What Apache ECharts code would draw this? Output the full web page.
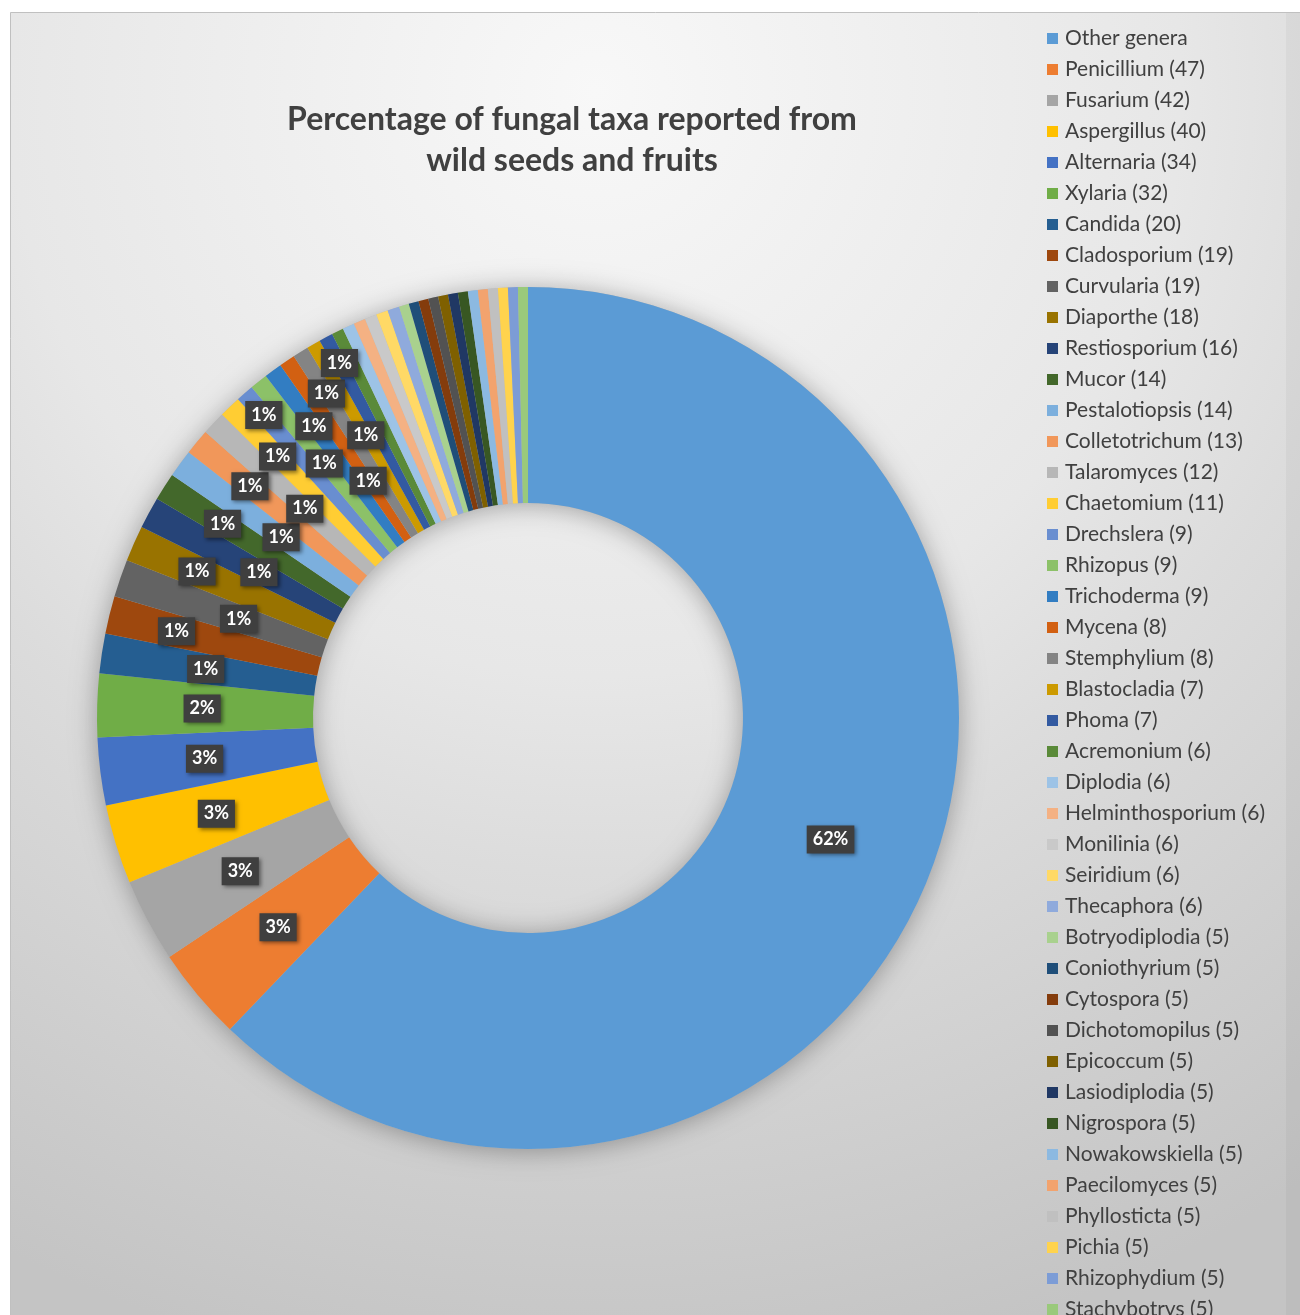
<!DOCTYPE html>
<html>
<head>
<meta charset="utf-8">
<script src="https://cdn.jsdelivr.net/npm/echarts@6/dist/echarts.min.js"></script>
<style>
  html, body { margin: 0; padding: 0; background: #ffffff; }
  #chart { width: 1300px; height: 1315px; }
</style>
</head>
<body>
<div id="chart"></div>
<script>
// ---- data ----
const titleLines = ["Percentage of fungal taxa reported from", "wild seeds and fruits"];

const genera = [
  "Other genera", "Penicillium", "Fusarium", "Aspergillus", "Alternaria", "Xylaria",
  "Candida", "Cladosporium", "Curvularia", "Diaporthe", "Restiosporium", "Mucor",
  "Pestalotiopsis", "Colletotrichum", "Talaromyces", "Chaetomium", "Drechslera", "Rhizopus",
  "Trichoderma", "Mycena", "Stemphylium", "Blastocladia", "Phoma", "Acremonium",
  "Diplodia", "Helminthosporium", "Monilinia", "Seiridium", "Thecaphora", "Botryodiplodia",
  "Coniothyrium", "Cytospora", "Dichotomopilus", "Epicoccum", "Lasiodiplodia", "Nigrospora",
  "Nowakowskiella", "Paecilomyces", "Phyllosticta", "Pichia", "Rhizophydium", "Stachybotrys"
];

// counts; "Other genera" is estimated from its 62% share of the ring
const counts = [
  836, 47, 42, 40, 34, 32,
  20, 19, 19, 18, 16, 14,
  14, 13, 12, 11, 9, 9,
  9, 8, 8, 7, 7, 6,
  6, 6, 6, 6, 6, 5,
  5, 5, 5, 5, 5, 5,
  5, 5, 5, 5, 5, 5
];

const palette = [
  "#5B9BD5", "#ED7D31", "#A5A5A5", "#FFC000", "#4472C4", "#70AD47",
  "#255E91", "#9E480E", "#636363", "#997300", "#264478", "#43682B",
  "#7CAFDD", "#F1975A", "#B7B7B7", "#FFCD33", "#698ED0", "#8CC168",
  "#327DC2", "#D26012", "#848484", "#CC9A00", "#335AA1", "#5A8A39",
  "#9DC3E6", "#F4B183", "#C9C9C9", "#FFD966", "#8FAADC", "#A9D18E",
  "#1F4E79", "#843C0C", "#525252", "#7F6000", "#203864", "#385723",
  "#8CB9E1", "#F2A36E", "#C0C0C0", "#FFD34D", "#7C9CD6", "#9AC97B"
];

// ---- build ----
const total = counts.reduce((a, b) => a + b, 0);
const pct = counts.map(v => Math.round(v / total * 100));
const CX = 528, CY = 718, R0 = 215, R1 = 431;

const pieData = genera.map((g, i) => ({
  name: g,
  value: counts[i],
  itemStyle: { color: palette[i] },
  label: { show: pct[i] > 0 }
}));

// radial placement of callout labels: alternate outer / inner ring,
// falling back to other radii when a label would collide with one already placed
const oddSteps = [36, 0, 56, -20, -40, 76];
const evenSteps = [-20, 0, 36, -40, 56, 76];
let placed = [];
function overlaps(a, list) {
  for (const b of list) {
    if (a.x < b.x + b.w && b.x < a.x + a.w &&
        a.y < b.y + b.h && b.y < a.y + a.h) return true;
  }
  return false;
}

const chart = echarts.init(document.getElementById('chart'), null, { renderer: 'canvas' });

const option = {
  animation: false,
  graphic: [
    {
      type: 'rect', z: -10, silent: true,
      shape: { x: 10.5, y: 12.5, width: 1300, height: 1320 },
      style: {
        fill: {
          type: 'radial', x: 0.45, y: 0.06, r: 1.0,
          colorStops: [
            { offset: 0, color: '#f8f8f8' },
            { offset: 0.45, color: '#e7e7e7' },
            { offset: 0.6, color: '#dcdcdc' },
            { offset: 1, color: '#c4c4c4' }
          ]
        },
        stroke: '#c0c0c0', lineWidth: 1
      }
    },
    {
      type: 'rect', z: -9, silent: true,
      shape: { x: 1286, y: 13, width: 20, height: 1310 },
      style: { fill: 'rgba(0,0,0,0.035)' }
    },
    {
      type: 'text', z: 10, silent: true,
      x: 572, y: 99,
      style: {
        text: titleLines.join('\n'),
        font: 'bold 32px Lato',
        fill: '#404040',
        align: 'center',
        verticalAlign: 'top',
        lineHeight: 41
      }
    }
  ],
  legend: {
    orient: 'vertical',
    left: 1047,
    top: 28,
    height: 1600,
    padding: 0,
    itemWidth: 11,
    itemHeight: 11,
    itemGap: 10,
    icon: 'rect',
    data: genera,
    selectedMode: false,
    textStyle: {
      fontFamily: 'Lato',
      fontSize: 21,
      lineHeight: 21,
      color: '#404040',
      padding: [0, 0, 0, 2]
    },
    formatter: function (name) {
      const i = genera.indexOf(name);
      return i === 0 ? name : name + ' (' + counts[i] + ')';
    }
  },
  series: [
    {
      type: 'pie',
      name: 'shadow',
      silent: true,
      z: 1,
      center: [CX, CY],
      radius: [R0, R1],
      label: { show: false },
      labelLine: { show: false },
      itemStyle: {
        color: '#b8b8b8',
        shadowBlur: 26,
        shadowColor: 'rgba(0,0,0,0.32)',
        shadowOffsetX: 0,
        shadowOffsetY: 2
      },
      data: [{ name: '', value: 1 }]
    },
    {
      type: 'pie',
      name: 'Fungal taxa',
      z: 2,
      center: [CX, CY],
      radius: [R0, R1],
      startAngle: 90,
      clockwise: true,
      avoidLabelOverlap: false,
      itemStyle: { borderWidth: 0 },
      label: {
        show: true,
        position: 'inside',
        formatter: function (p) { return pct[p.dataIndex] + '%'; },
        fontFamily: 'Lato',
        fontWeight: 'bold',
        fontSize: 18,
        lineHeight: 18,
        color: '#ffffff',
        backgroundColor: '#3f3f3f',
        padding: [6, 6, 4, 6],
        shadowColor: 'rgba(0,0,0,0.45)',
        shadowBlur: 4,
        shadowOffsetX: 2,
        shadowOffsetY: 2
      },
      labelLine: { show: false },
      labelLayout: function (p) {
        const i = p.dataIndex;
        if (i === 0) placed = [];
        const r = p.labelRect;
        const lx = r.x + r.width / 2, ly = r.y + r.height / 2;
        const vx = lx - CX, vy = ly - CY;
        const d = Math.sqrt(vx * vx + vy * vy) || 1;
        const steps = (i < 7 || pct[i] !== 1) ? [0] : (i % 2 === 1 ? oddSteps : evenSteps);
        let best = { dx: 0, dy: 0 };
        for (const s of steps) {
          const dx = vx / d * s, dy = vy / d * s;
          const cand = { x: r.x + dx, y: r.y + dy, w: r.width, h: r.height };
          if (!overlaps(cand, placed)) { best = { dx: dx, dy: dy }; break; }
        }
        placed.push({ x: r.x + best.dx, y: r.y + best.dy, w: r.width, h: r.height });
        return best;
      },
      data: pieData
    }
  ]
};

chart.setOption(option);
</script>
</body>
</html>
